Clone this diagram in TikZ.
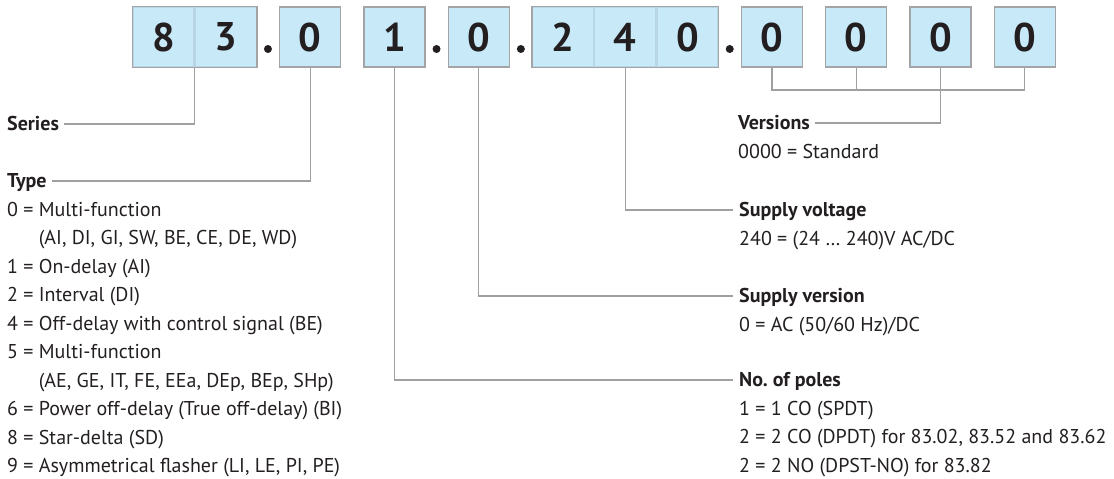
\documentclass[tikz,border=0pt]{standalone}
\usepackage{xcolor}
\usepackage{fontspec}
\setmainfont{PT Sans}
\usepackage{tikz}
\usetikzlibrary{positioning,calc}

\definecolor{cellblue}{HTML}{C8E9F8}
\definecolor{cellline}{HTML}{A2A4A6}
\definecolor{cellfaint}{HTML}{B9D6E4}
\definecolor{leadgray}{HTML}{A0A0A0}
\definecolor{ink}{HTML}{231F20}

% list block: first row sits on the node's base line
\newcommand{\codelist}[1]{\begin{tabular}[t]{@{}l@{}}#1\end{tabular}}

\tikzset{
    cell/.style={rectangle, draw=cellline, line width=1.3pt, fill=cellblue, minimum width=61pt, minimum height=60pt, inner sep=0pt, text=ink, font=\fontsize{40}{40}\bfseries\selectfont},
    frame/.style={draw=cellline, line width=1.3pt},
    dot/.style={circle, fill=ink, minimum size=8pt, inner sep=0pt},
    lead/.style={draw=leadgray, line width=1.2pt},
    heading/.style={anchor=west, inner sep=0pt, text height=13pt, text depth=0pt, text=ink, font=\fontsize{20}{28.5}\bfseries\selectfont},
    listing/.style={anchor=base west, inner sep=0pt, text=ink, font=\fontsize{20}{28.5}\selectfont}
}

\begin{document}
\begin{tikzpicture}[x=1pt, y=-1pt]
    \useasboundingbox (0,0) rectangle (1114,479);

    % code boxes
    \node[cell, draw=cellfaint] (s1) at (163.5,37) {8};
    \node[cell, draw=cellfaint, right=0pt of s1] (s2) {3};
    \node[cell, right=22pt of s2] (t1) {0};
    \node[cell, right=22pt of t1] (p1) {1};
    \node[cell, right=22pt of p1] (v1) {0};
    \node[cell, draw=cellfaint, right=22pt of v1] (u1) {2};
    \node[cell, draw=cellfaint, right=0pt of u1] (u2) {4};
    \node[cell, draw=cellfaint, right=0pt of u2] (u3) {0};
    \node[cell, right=22pt of u3] (w1) {0};
    \node[cell, right=22pt of w1] (w2) {0};
    \node[cell, right=22pt of w2] (w3) {0};
    \node[cell, right=22pt of w3] (w4) {0};
    \draw[frame] (s1.north west) rectangle (s2.south east);
    \draw[frame] (u1.north west) rectangle (u3.south east);

    \node[dot] (d1) at ([yshift=-12pt]$(s2.east)!.5!(t1.west)$) {};
    \node[dot] (d2) at ([yshift=-12pt]$(p1.east)!.5!(v1.west)$) {};
    \node[dot] (d3) at ([yshift=-12pt]$(v1.east)!.5!(u1.west)$) {};
    \node[dot] (d4) at ([yshift=-12pt]$(u3.east)!.5!(w1.west)$) {};

    % left column
    \node[heading] (series) at (7,124) {Series};
    \node[heading] (type) at (7,181) {Type};
    \node[listing] (typelist) at ([yshift=-28.5pt]type.base west) {\codelist{0 = Multi-function\\
        \phantom{0 = }(AI, DI, GI, SW, BE, CE, DE, WD)\\
        1 = On-delay (AI)\\
        2 = Interval (DI)\\
        4 = Off-delay with control signal (BE)\\
        5 = Multi-function\\
        \phantom{5 = }(AE, GE, IT, FE, EEa, DEp, BEp, SHp)\\
        6 = Power off-delay (True off-delay) (BI)\\
        8 = Star-delta (SD)\\
        9 = Asymmetrical flasher (LI, LE, PI, PE)}};

    % right column
    \node[heading] (vers) at (738,123) {Versions};
    \node[listing] (verslist) at ([yshift=-28.5pt]vers.base west) {0000 = Standard};
    \node[heading] (volt) at (739,210) {Supply voltage};
    \node[listing] (voltlist) at ([yshift=-28.5pt]volt.base west) {240 = (24 \dots\ 240)V AC/DC};
    \node[heading] (supp) at (739,296) {Supply version};
    \node[listing] (supplist) at ([yshift=-28.5pt]supp.base west) {0 = AC (50/60 Hz)/DC};
    \node[heading] (poles) at (739,380) {No.\ of poles};
    \node[listing] (poleslist) at ([yshift=-28.5pt]poles.base west) {\codelist{1 = 1 CO (SPDT)\\
        2 = 2 CO (DPDT) for 83.02, 83.52 and 83.62\\
        2 = 2 NO (DPST-NO) for 83.82}};

    % leads
    \coordinate (brk) at (0,90);
    \draw[lead] (s1.south east) |- ([xshift=5pt]series.east);
    \draw[lead] (t1.south) |- ([xshift=5pt]type.east);
    \draw[lead] (p1.south) |- ([xshift=-6pt]poles.west);
    \draw[lead] (v1.south) |- ([xshift=-6pt]supp.west);
    \draw[lead] (u2.south) |- ([xshift=-6pt]volt.west);
    \draw[lead] (w1.south) |- (w4.south |- brk) -- (w4.south);
    \draw[lead] (w2.south) -- (w2.south |- brk);
    \draw[lead] (w3.south) |- ([xshift=5pt]vers.east);
\end{tikzpicture}
\end{document}
